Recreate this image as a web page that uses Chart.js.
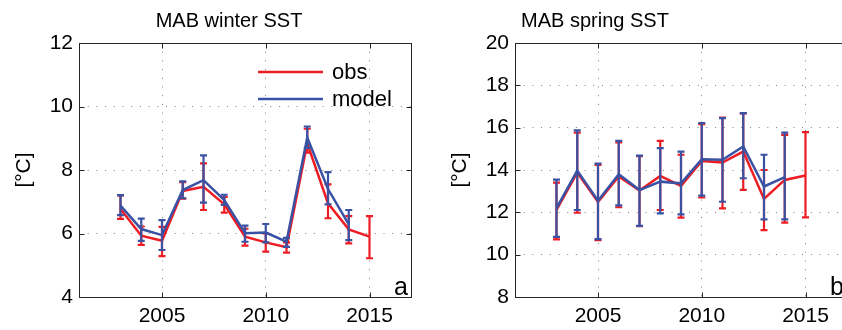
<!DOCTYPE html>
<html>
<head>
<meta charset="utf-8">
<script src="https://cdn.jsdelivr.net/npm/chart.js@4/dist/chart.umd.min.js"></script>
<style>
    html, body { margin: 0; padding: 0; background: #fff; overflow: hidden; }
    body { width: 842px; height: 330px; position: relative; }
    .panel { position: absolute; top: 0; width: 430px; height: 330px; }
    #panel-a { left: 0; }
    #panel-b { left: 436px; }
</style>
</head>
<body>
<div class="panel" id="panel-a"><canvas id="chart-a" width="430" height="330"></canvas></div>
<div class="panel" id="panel-b"><canvas id="chart-b" width="430" height="330"></canvas></div>
<script>
const years = [2003, 2004, 2005, 2006, 2007, 2008, 2009, 2010, 2011, 2012, 2013, 2014, 2015];

// winter (panel a)
const obsWinter = [6.77, 5.93, 5.77, 7.34, 7.47, 6.92, 5.90, 5.72, 5.57, 8.84, 6.95, 6.13, 5.90];
const obsWinterLow = [6.46, 5.64, 5.29, 7.10, 6.74, 6.66, 5.62, 5.43, 5.40, 8.55, 6.48, 5.69, 5.22];
const obsWinterHigh = [7.20, 6.22, 6.21, 7.62, 8.21, 7.15, 6.15, 6.00, 5.72, 9.30, 7.55, 6.55, 6.55];
const modelWinter = [6.88, 6.14, 5.95, 7.37, 7.68, 7.05, 6.01, 6.03, 5.74, 9.02, 7.40, 6.29, null];
const modelWinterLow = [6.58, 5.77, 5.48, 7.11, 6.97, 6.90, 5.74, 5.72, 5.58, 8.70, 6.92, 5.79, null];
const modelWinterHigh = [7.21, 6.47, 6.42, 7.64, 8.46, 7.22, 6.25, 6.30, 5.86, 9.37, 7.93, 6.74, null];

// spring (panel b)
const obsSpring = [12.11, 13.88, 12.49, 13.70, 13.03, 13.72, 13.25, 14.43, 14.35, 14.87, 12.63, 13.53, 13.74];
const obsSpringLow = [10.72, 11.98, 10.68, 12.24, 11.35, 12.11, 11.75, 12.70, 12.19, 13.06, 11.16, 11.51, 11.76];
const obsSpringHigh = [13.40, 15.77, 14.24, 15.30, 14.66, 15.38, 14.72, 16.17, 16.48, 16.67, 14.00, 15.66, 15.79];
const modelSpring = [12.20, 13.97, 12.55, 13.80, 13.05, 13.45, 13.37, 14.51, 14.48, 15.11, 13.22, 13.66, null];
const modelSpringLow = [10.84, 12.11, 10.73, 12.33, 11.36, 11.95, 11.90, 12.79, 12.50, 13.61, 11.67, 11.67, null];
const modelSpringHigh = [13.55, 15.87, 14.30, 15.38, 14.68, 15.03, 14.87, 16.22, 16.45, 16.69, 14.72, 15.77, null];

const xTicks = [2005, 2010, 2015];
const winterTicks = [4, 6, 8, 10, 12];
const springTicks = [8, 10, 12, 14, 16, 18, 20];

const obsColor = '#ee1d23';
const modelColor = '#3a52a3';
const boxColor = '#262626';
const fontFamily = "'Liberation Sans', Arial, sans-serif";

function toPoints(values) {
    return years.map((yr, i) => ({ x: yr, y: values[i] }));
}

// vertical error bars with caps, drawn right after their own line
const errorBars = {
    id: 'errorBars',
    afterDatasetDraw(chart, args) {
        const ds = chart.data.datasets[args.index];
        if (!ds.errLow) return;
        const { ctx } = chart;
        const x = chart.scales.x;
        const y = chart.scales.y;
        const cap = 3.5;
        ctx.save();
        ctx.strokeStyle = ds.borderColor;
        ctx.lineWidth = 2.2;
        ds.data.forEach((p, i) => {
            if (p.y === null) return;
            const px = x.getPixelForValue(p.x);
            const lo = y.getPixelForValue(ds.errLow[i]);
            const hi = y.getPixelForValue(ds.errHigh[i]);
            ctx.beginPath();
            ctx.moveTo(px, lo);
            ctx.lineTo(px, hi);
            ctx.moveTo(px - cap, lo);
            ctx.lineTo(px + cap, lo);
            ctx.moveTo(px - cap, hi);
            ctx.lineTo(px + cap, hi);
            ctx.stroke();
        });
        ctx.restore();
    }
};

// matlab style box, inward ticks, title, panel letter and legend
const panelDecor = {
    id: 'panelDecor',
    beforeDatasetsDraw(chart) {
        const { ctx, chartArea: a } = chart;
        const x = chart.scales.x;
        const y = chart.scales.y;
        const l = Math.round(a.left) + 0.5, r = Math.round(a.right) + 0.5;
        const t = Math.round(a.top) + 0.5, b = Math.round(a.bottom) + 0.5;
        ctx.save();
        ctx.strokeStyle = boxColor;
        ctx.lineWidth = 1;
        ctx.strokeRect(l, t, r - l, b - t);
        ctx.beginPath();
        x.ticks.forEach(tk => {
            const px = Math.round(x.getPixelForValue(tk.value)) + 0.5;
            ctx.moveTo(px, b); ctx.lineTo(px, b - 5);
            ctx.moveTo(px, t); ctx.lineTo(px, t + 5);
        });
        y.ticks.forEach(tk => {
            const py = Math.round(y.getPixelForValue(tk.value)) + 0.5;
            ctx.moveTo(l, py); ctx.lineTo(l + 5, py);
            ctx.moveTo(r, py); ctx.lineTo(r - 5, py);
        });
        ctx.stroke();
        ctx.restore();
    },
    afterDraw(chart, args, opts) {
        const { ctx, chartArea: a } = chart;
        ctx.save();
        ctx.fillStyle = '#000';
        ctx.textBaseline = 'alphabetic';

        ctx.font = '20px ' + fontFamily;
        ctx.textAlign = 'center';
        ctx.fillText(opts.title, opts.titleX, 26.5);

        ctx.font = '25px ' + fontFamily;
        ctx.textAlign = 'right';
        ctx.fillText(opts.letter, a.right - 3, a.bottom - 2);

        if (opts.legend) {
            ctx.font = '22px ' + fontFamily;
            ctx.textAlign = 'left';
            ctx.textBaseline = 'middle';
            chart.data.datasets.forEach((ds, i) => {
                const ly = opts.legend.y + i * 27;
                ctx.strokeStyle = ds.borderColor;
                ctx.lineWidth = 2.5;
                ctx.beginPath();
                ctx.moveTo(opts.legend.x, ly);
                ctx.lineTo(opts.legend.x + 65, ly);
                ctx.stroke();
                ctx.fillText(ds.label, opts.legend.x + 74, ly + 1);
            });
        }
        ctx.restore();
    }
};

function makeChart(canvasId, cfg) {
    const tickFont = { family: fontFamily, size: 21 };
    const gridColor = 'rgba(0, 0, 0, 0.5)';
    return new Chart(document.getElementById(canvasId), {
        type: 'line',
        data: {
            datasets: [{
                label: 'obs',
                data: toPoints(cfg.obs),
                errLow: cfg.obsLow,
                errHigh: cfg.obsHigh,
                borderColor: obsColor,
                borderWidth: 2.5,
                pointRadius: 0,
                tension: 0,
                order: 2
            }, {
                label: 'model',
                data: toPoints(cfg.model),
                errLow: cfg.modelLow,
                errHigh: cfg.modelHigh,
                borderColor: modelColor,
                borderWidth: 2.5,
                pointRadius: 0,
                tension: 0,
                order: 1
            }]
        },
        options: {
            responsive: false,
            animation: false,
            layout: { padding: { top: 43, right: 19, left: 0, bottom: 0 } },
            scales: {
                x: {
                    type: 'linear',
                    min: 2001,
                    max: 2017,
                    afterBuildTicks: s => { s.ticks = xTicks.map(v => ({ value: v })); },
                    afterFit: s => { s.height = 33; },
                    grid: { color: gridColor, drawTicks: false },
                    border: { display: false, dash: [1, 7.7] },
                    ticks: {
                        color: '#000',
                        font: tickFont,
                        padding: 7,
                        maxRotation: 0,
                        autoSkip: false,
                        callback: v => String(v)
                    }
                },
                y: {
                    min: cfg.yTicks[0],
                    max: cfg.yTicks[cfg.yTicks.length - 1],
                    afterBuildTicks: s => { s.ticks = cfg.yTicks.map(v => ({ value: v })); },
                    afterFit: s => { s.width = 79; },
                    grid: { color: gridColor, drawTicks: false },
                    border: { display: false, dash: [1, 7.7] },
                    ticks: { color: '#000', font: tickFont, padding: 6, autoSkip: false },
                    title: {
                        display: true,
                        text: '[°C]',
                        color: '#000',
                        font: { family: fontFamily, size: 21 },
                        padding: { top: 12, bottom: 0 }
                    }
                }
            },
            plugins: {
                legend: { display: false },
                tooltip: { enabled: false },
                panelDecor: cfg.decor
            }
        },
        plugins: [errorBars, panelDecor]
    });
}

makeChart('chart-a', {
    obs: obsWinter, obsLow: obsWinterLow, obsHigh: obsWinterHigh,
    model: modelWinter, modelLow: modelWinterLow, modelHigh: modelWinterHigh,
    yTicks: winterTicks,
    decor: { title: 'MAB winter SST', titleX: 229, letter: 'a', legend: { x: 258, y: 72 } }
});

makeChart('chart-b', {
    obs: obsSpring, obsLow: obsSpringLow, obsHigh: obsSpringHigh,
    model: modelSpring, modelLow: modelSpringLow, modelHigh: modelSpringHigh,
    yTicks: springTicks,
    decor: { title: 'MAB spring SST', titleX: 159, letter: 'b', legend: null }
});
</script>
</body>
</html>
